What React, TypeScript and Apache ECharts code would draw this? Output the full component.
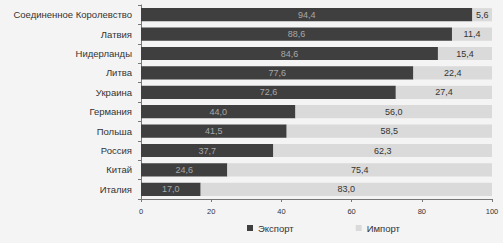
import React, { useEffect, useRef } from "react";
import * as echarts from "echarts";

const countries = [
  "Соединенное Королевство",
  "Латвия",
  "Нидерланды",
  "Литва",
  "Украина",
  "Германия",
  "Польша",
  "Россия",
  "Китай",
  "Италия",
];
const exportShare = [94.4, 88.6, 84.6, 77.6, 72.6, 44.0, 41.5, 37.7, 24.6, 17.0];
const importShare = [5.6, 11.4, 15.4, 22.4, 27.4, 56.0, 58.5, 62.3, 75.4, 83.0];
const xTicks = [0, 20, 40, 60, 80, 100];

const fmt = (v: number) => v.toFixed(1).replace(".", ",");

export default function App() {
  const ref = useRef<HTMLDivElement>(null);

  useEffect(() => {
    if (!ref.current) return;
    const chart = echarts.init(ref.current, undefined, { renderer: "svg" });
    chart.setOption({
      animation: false,
      backgroundColor: "#f4f4f4",
      textStyle: { fontFamily: "Liberation Sans, Arial, sans-serif" },
      grid: { left: 141, right: 11, top: 5, bottom: 44 },
      legend: {
        bottom: 5,
        left: 242,
        itemWidth: 6,
        itemHeight: 6,
        itemGap: 62,
        icon: "rect",
        textStyle: { fontSize: 9.5, color: "#333" },
        data: ["Экспорт", "Импорт"],
      },
      xAxis: {
        type: "value",
        min: xTicks[0],
        max: xTicks[xTicks.length - 1],
        interval: 20,
        axisLine: { show: true, lineStyle: { color: "#777" } },
        axisTick: { show: true, length: 3, lineStyle: { color: "#777" } },
        axisLabel: { fontSize: 7.5, color: "#333", margin: 8 },
        splitLine: { show: false },
      },
      yAxis: {
        type: "category",
        inverse: true,
        data: countries,
        axisLine: { show: true, lineStyle: { color: "#777" } },
        axisTick: { show: true, length: 3, lineStyle: { color: "#777" } },
        axisLabel: { fontSize: 9.5, color: "#333", margin: 9 },
      },
      series: [
        {
          name: "Экспорт",
          type: "bar",
          stack: "total",
          barCategoryGap: "32%",
          itemStyle: { color: "#3f3f3f" },
          label: {
            show: true,
            position: "inside",
            fontSize: 9,
            color: "#a8a8a8",
            formatter: (p: any) => fmt(p.value),
          },
          data: exportShare,
        },
        {
          name: "Импорт",
          type: "bar",
          stack: "total",
          barCategoryGap: "32%",
          itemStyle: { color: "#dadada" },
          label: {
            show: true,
            position: "inside",
            fontSize: 9,
            color: "#333",
            formatter: (p: any) => fmt(p.value),
          },
          data: importShare,
        },
      ],
    });
    return () => chart.dispose();
  }, []);

  return (
    <div
      ref={ref}
      style={{ position: "absolute", left: 0, top: 0, width: 503, height: 243 }}
    />
  );
}
